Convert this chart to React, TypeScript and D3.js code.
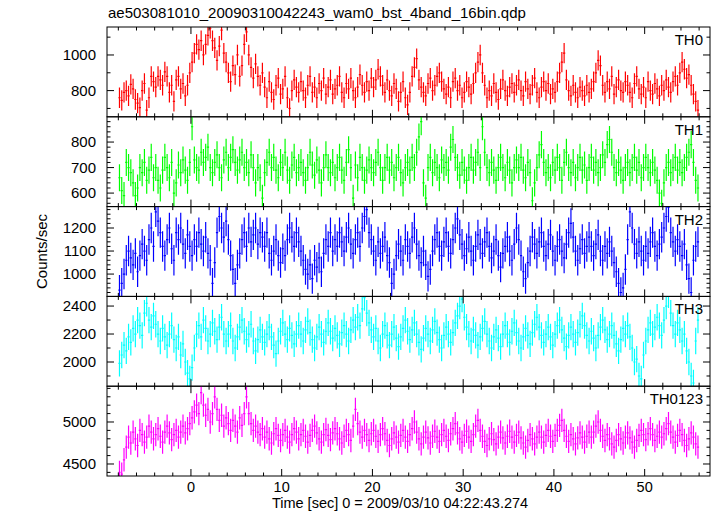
import React from "react";
import * as d3 from "d3";

const title = "ae503081010_20090310042243_wam0_bst_4band_16bin.qdp";
const xLabel = "Time [sec] 0 = 2009/03/10 04:22:43.274";
const yLabel = "Counts/sec";
const panelNames = ["TH0", "TH1", "TH2", "TH3", "TH0123"];
const panelColors = ["#ff0000", "#00ff00", "#0000ff", "#00ffff", "#ff00ff"];
const binStart = -8;
const binWidth = 0.25;
const panelErrors = [57, 53, 66, 94, 139];
const yDomains: [number, number][] = [[653, 1157], [547, 899], [903, 1293], [1827, 2469], [4357, 5426]];
const yMajorStep = [200, 100, 100, 200, 500];
const yMinorStep = [100, 20, 20, 100, 100];
const xTicksMajor = [0, 10, 20, 30, 40, 50];

const th0 = [
  760, 745, 790, 800, 770, 835, 810, 750, 730, 705, 800, 840, 690, 760, 880, 850,
  820, 880, 860, 830, 905, 880, 790, 830, 740, 860, 880, 810, 840, 770, 830, 900,
  960, 1010, 1060, 1030, 1080, 1000, 1060, 1110, 1150, 1080, 1040, 970, 1050, 1140, 1010, 960,
  900, 850, 940, 890, 1000, 880, 940, 1060, 1130, 1000, 930, 870, 950, 880, 830, 900,
  820, 760, 850, 790, 750, 830, 870, 780, 810, 880, 760, 700, 800, 860, 820, 790,
  850, 800, 760, 830, 880, 790, 820, 760, 840, 800, 870, 780, 820, 860, 780, 810,
  830, 880, 790, 760, 840, 810, 870, 800, 760, 820, 890, 830, 790, 850, 800, 870,
  820, 860, 920, 880, 830, 790, 860, 800, 770, 840, 810, 740, 790, 850, 760, 720,
  790, 880, 930, 980, 860, 820, 790, 770, 840, 870, 800, 830, 880, 900, 850, 810,
  780, 820, 760, 850, 870, 800, 830, 760, 790, 850, 820, 780, 840, 900, 960, 1000,
  900, 830, 760, 800, 770, 840, 790, 750, 810, 860, 800, 770, 820, 840, 790, 830,
  860, 800, 770, 850, 810, 780, 830, 870, 790, 760, 820, 850, 800, 840, 780, 810,
  790, 850, 900, 960, 1010, 860, 800, 770, 830, 790, 760, 820, 800, 770, 830, 790,
  810, 850, 900, 970, 940, 830, 790, 850, 810, 880, 780, 820, 860, 800, 790, 850,
  830, 790, 760, 840, 880, 810, 780, 820, 760, 850, 800, 780, 840, 810, 770, 830,
  800, 860, 820, 790, 850, 880, 830, 900, 960, 920, 870, 890, 830, 780, 740, 690,
];

const th1 = [
  660, 610, 590, 720, 700, 680, 640, 590, 620, 700, 680, 720, 650, 690, 740, 660,
  700, 650, 620, 690, 740, 700, 660, 720, 600, 640, 710, 680, 730, 690, 650, 720,
  860, 730, 700, 690, 760, 720, 740, 780, 700, 680, 720, 750, 700, 660, 730, 760,
  700, 740, 770, 720, 690, 730, 760, 700, 720, 680, 750, 700, 640, 700, 660, 580,
  680, 720, 760, 700, 740, 690, 660, 720, 700, 760, 690, 650, 710, 740, 680, 700,
  720, 680, 650, 700, 760, 710, 670, 730, 690, 640, 700, 750, 700, 680, 720, 660,
  700, 740, 690, 650, 720, 770, 700, 580, 710, 660, 740, 700, 650, 690, 730, 700,
  680, 720, 760, 700, 650, 700, 740, 690, 720, 660, 700, 740, 680, 640, 700, 720,
  690, 740, 700, 760, 820, 880, 640, 580, 700, 740, 680, 720, 700, 660, 730, 700,
  720, 690, 780, 810, 740, 700, 670, 720, 690, 650, 700, 740, 690, 720, 760, 700,
  860, 760, 700, 680, 720, 690, 650, 700, 740, 700, 660, 720, 690, 640, 700, 730,
  700, 740, 690, 660, 720, 680, 570, 640, 700, 750, 790, 720, 680, 700, 660, 720,
  690, 740, 700, 650, 720, 760, 700, 680, 720, 660, 700, 740, 690, 710, 650, 700,
  740, 690, 720, 680, 700, 750, 720, 790, 810, 760, 700, 680, 720, 690, 650, 700,
  720, 680, 700, 740, 690, 720, 660, 700, 740, 700, 680, 720, 690, 650, 600, 560,
  640, 700, 720, 680, 700, 740, 690, 720, 680, 700, 740, 760, 790, 720, 650, 620,
];

const th2 = [
  930, 960, 1000, 1060, 1100, 1070, 1040, 1090, 1010, 1080, 1130, 1100, 1060, 1150, 1200, 1120,
  1270, 1230, 1180, 1120, 1080, 1150, 1200, 1110, 1060, 1180, 1150, 1200, 1130, 1090, 1170, 1120,
  1080, 1150, 1120, 1180, 1130, 1100, 1160, 1090, 1060, 960, 1050, 1180, 1250, 1200, 1160, 1230,
  1150, 1080, 1020, 960, 1040, 1090, 1150, 1180, 1120, 1200, 1140, 1170, 1200, 1130, 1180, 1160,
  1120, 1180, 1090, 1060, 1100, 1150, 1080, 1050, 1110, 1080, 1150, 1200, 1160, 1120, 1180, 1140,
  1100, 1060, 1020, 1000, 1040, 980, 1060, 1030, 1070, 1010, 1090, 1150, 1120, 1180, 1100, 1150,
  1120, 1180, 1140, 1100, 1160, 1200, 1130, 1090, 1150, 1180, 1120, 1200, 1250, 1280, 1180, 1150,
  1100, 1060, 1140, 1090, 1120, 1160, 1080, 1050, 960, 1000, 1080, 1130, 1100, 1060, 1150, 1120,
  1090, 1160, 1200, 1130, 1080, 1050, 1100, 1040, 990, 1020, 1100, 1150, 1180, 1120, 1080, 1140,
  1180, 1120, 1090, 1150, 1200, 1240, 1170, 1130, 1080, 1110, 1160, 1100, 1060, 1120, 1170, 1130,
  1090, 1140, 1180, 1120, 1070, 1100, 1150, 1080, 1030, 1090, 1120, 1160, 1100, 1060, 1130, 1200,
  1150, 1080, 1010, 980, 1050, 1100, 1160, 1130, 1090, 1140, 1180, 1120, 1080, 1130, 1170, 1100,
  1060, 1120, 1150, 1100, 1070, 1130, 1180, 1220, 1160, 1100, 1060, 1110, 1150, 1090, 1120, 1160,
  1120, 1080, 1130, 1170, 1100, 1060, 1120, 1090, 1140, 1100, 1050, 1010, 960, 920, 940, 1020,
  1150, 1270, 1200, 1130, 1090, 1140, 1100, 1060, 1120, 1090, 1140, 1180, 1120, 1080, 1130, 1160,
  1200, 1250, 1290, 1180, 1140, 1100, 1150, 1120, 1080, 1130, 1040, 980, 920, 1060, 1120, 1140,
];

const th3 = [
  1990, 2050, 2120, 2080, 2180, 2140, 2240, 2200, 2300, 2260, 2190, 2350, 2420, 2300, 2250, 2330,
  2270, 2200, 2150, 2240, 2180, 2120, 2200, 2260, 2160, 2100, 2180, 2050, 2130, 2000, 1920, 1880,
  1960, 2100, 2200, 2260, 2180, 2300, 2240, 2150, 2200, 2280, 2220, 2160, 2250, 2320, 2200, 2150,
  2200, 2260, 2150, 2100, 2180, 2250, 2300, 2220, 2160, 2200, 2270, 2150, 2080, 2160, 2230, 2180,
  2140, 2200, 2250, 2180, 2120, 2060, 2150, 2220, 2280, 2200, 2160, 2240, 2190, 2130, 2200, 2260,
  2200, 2150, 2230, 2290, 2210, 2160, 2100, 2180, 2250, 2200, 2140, 2220, 2280, 2220, 2170, 2240,
  2190, 2130, 2210, 2260, 2200, 2150, 2230, 2300, 2250, 2320, 2260, 2380, 2460, 2350, 2280, 2230,
  2180, 2240, 2150, 2100, 2200, 2260, 2190, 2120, 2200, 2250, 2170, 2110, 2180, 2240, 2300, 2220,
  2160, 2230, 2280, 2200, 2140, 2090, 2170, 2240, 2200, 2150, 2230, 2290, 2210, 2160, 2100, 2190,
  2250, 2200, 2140, 2210, 2280, 2330, 2400, 2450, 2320, 2250, 2200, 2150, 2230, 2190, 2120, 2180,
  2240, 2290, 2200, 2150, 2100, 2180, 2230, 2170, 2110, 2200, 2260, 2200, 2140, 2220, 2280, 2210,
  2150, 2100, 2180, 2240, 2190, 2130, 2210, 2270, 2320, 2250, 2190, 2140, 2200, 2250, 2180, 2120,
  2200, 2260, 2300, 2230, 2170, 2110, 2190, 2250, 2200, 2140, 2210, 2270, 2330, 2260, 2190, 2150,
  2220, 2170, 2100, 2190, 2250, 2300, 2230, 2160, 2200, 2260, 2190, 2130, 2080, 2160, 2240, 2200,
  2260, 2180, 2100, 2000, 2020, 1900, 1880, 2050, 2150, 2230, 2280, 2200, 2250, 2320, 2260, 2190,
  2300, 2400, 2480, 2350, 2260, 2200, 2280, 2230, 2150, 2200, 2080, 2000, 1900, 1850, 2150, 2300,
];

const th0123 = [
  4400, 4380, 4550, 4700, 4820, 4750, 4880, 4800, 4720, 4900, 4850, 4760, 4820, 4950, 4880, 4800,
  4850, 4920, 4830, 4760, 4880, 4950, 4870, 4790, 4850, 4900, 4820, 4880, 4950, 4870, 4920, 4980,
  5050, 5120, 5200, 5100, 5350, 5200, 5080, 5150, 5000, 5100, 5300, 5150, 5020, 5080, 4950, 5050,
  4980, 4900, 5020, 4950, 4880, 5050, 4960, 5100, 5300, 5100, 4980, 4900, 4950, 4880, 4850, 4920,
  4820, 4880, 4800, 4750, 4860, 4920, 4840, 4780, 4850, 4900, 4820, 4760, 4850, 4920, 4880, 4800,
  4850, 4900, 4830, 4760, 4840, 4900, 4950, 4870, 4800, 4760, 4850, 4910, 4840, 4790, 4870, 4920,
  4860, 4800, 4750, 4830, 4900, 4850, 4780, 4950, 5150, 4980, 4880, 4820, 4900, 4850, 4780, 4860,
  4900, 4830, 4770, 4850, 4920, 4860, 4780, 4720, 4800, 4870, 4820, 4760, 4840, 4900, 4820, 4770,
  4850, 4920, 5000, 4880, 4800, 4740, 4820, 4880, 4810, 4750, 4830, 4890, 4820, 4770, 4850, 4900,
  4830, 4780, 4860, 4920, 4980, 4870, 4800, 4760, 4840, 4890, 4820, 4770, 4850, 4950, 5020, 4900,
  4830, 4770, 4720, 4800, 4860, 4790, 4740, 4820, 4880, 4810, 4750, 4830, 4890, 4820, 4760, 4840,
  4880, 4810, 4750, 4700, 4780, 4850, 4800, 4740, 4820, 4880, 4820, 4760, 4840, 4900, 4830, 4770,
  4840, 4900, 4960, 5020, 4900, 4830, 4770, 4850, 4800, 4740, 4810, 4870, 4820, 4760, 4830, 4880,
  4820, 4880, 4950, 5000, 4900, 4830, 4780, 4850, 4800, 4740, 4700, 4780, 4850, 4800, 4750, 4820,
  4870, 4810, 4760, 4700, 4780, 4840, 4900, 4850, 4790, 4860, 4920, 4850, 4780, 4830, 4880, 4820,
  4860, 4920, 4980, 4880, 4820, 4760, 4840, 4900, 4850, 4780, 4720, 4800, 4870, 4820, 4740, 4700,
];

const series = [th0, th1, th2, th3, th0123];

const W = 717;
const H = 516;
const left = 107;
const right = 710;
const top = 27;
const bottom = 476;
const FONT = "'Liberation Sans', Arial, Helvetica, sans-serif";

export default function App() {
  const x = d3.scaleLinear().domain([-9.25, 57.2]).range([left, right]);
  const ph = (bottom - top) / series.length;
  const xMinor = d3.range(-8, 57, 2).filter((t) => !xTicksMajor.includes(t));

  return (
    <svg width={W} height={H} style={{ position: "absolute", left: 0, top: 0, background: "#fff" }}>
      <defs>
        {series.map((_, p) => (
          <clipPath id={`clip${p}`} key={p}>
            <rect x={left} y={top + p * ph} width={right - left} height={ph} />
          </clipPath>
        ))}
      </defs>
      <rect x={0} y={0} width={W} height={H} fill="#fff" />
      <text x={108} y={18} fontFamily={FONT} fontSize={15} fill="#000">{title}</text>
      {series.map((vals, p) => {
        const y0 = top + p * ph;
        const y1 = y0 + ph;
        const y = d3.scaleLinear().domain(yDomains[p]).range([y1, y0]);
        const err = panelErrors[p];
        const color = panelColors[p];
        const [d0, d1] = yDomains[p];
        const majors = d3.range(Math.ceil(d0 / yMajorStep[p]) * yMajorStep[p], d1, yMajorStep[p]);
        const minors = d3
          .range(Math.ceil(d0 / yMinorStep[p]) * yMinorStep[p], d1, yMinorStep[p])
          .filter((v) => v % yMajorStep[p] !== 0);
        const path = d3.path();
        vals.forEach((v, i) => {
          const t0 = binStart + i * binWidth;
          const tc = t0 + binWidth / 2;
          path.moveTo(x(tc), y(v - err));
          path.lineTo(x(tc), y(v + err));
          path.moveTo(x(t0), y(v));
          path.lineTo(x(t0 + binWidth), y(v));
        });
        return (
          <g key={p}>
            <g clipPath={`url(#clip${p})`}>
              <path d={path.toString()} stroke={color} strokeWidth={1.2} fill="none" />
            </g>
            <rect x={left} y={y0} width={right - left} height={ph} fill="none" stroke="#000" strokeWidth={1} />
            {xTicksMajor.map((t) => (
              <g key={`xm${t}`} stroke="#000" strokeWidth={1}>
                <line x1={x(t)} x2={x(t)} y1={y0} y2={y0 + 7} />
                <line x1={x(t)} x2={x(t)} y1={y1} y2={y1 - 7} />
              </g>
            ))}
            {xMinor.map((t) => (
              <g key={`xn${t}`} stroke="#000" strokeWidth={1}>
                <line x1={x(t)} x2={x(t)} y1={y0} y2={y0 + 3.5} />
                <line x1={x(t)} x2={x(t)} y1={y1} y2={y1 - 3.5} />
              </g>
            ))}
            {majors.map((v) => (
              <g key={`ym${v}`}>
                <line x1={left} x2={left + 7} y1={y(v)} y2={y(v)} stroke="#000" strokeWidth={1} />
                <line x1={right} x2={right - 7} y1={y(v)} y2={y(v)} stroke="#000" strokeWidth={1} />
                <text x={96} y={y(v) + 5} textAnchor="end" fontFamily={FONT} fontSize={15} fill="#000">
                  {v}
                </text>
              </g>
            ))}
            {minors.map((v) => (
              <g key={`yn${v}`} stroke="#000" strokeWidth={1}>
                <line x1={left} x2={left + 3.5} y1={y(v)} y2={y(v)} />
                <line x1={right} x2={right - 3.5} y1={y(v)} y2={y(v)} />
              </g>
            ))}
            <text x={703} y={y0 + 18} textAnchor="end" fontFamily={FONT} fontSize={15} fill="#000">
              {panelNames[p]}
            </text>
          </g>
        );
      })}
      {xTicksMajor.map((t) => (
        <text key={`xl${t}`} x={x(t)} y={492} textAnchor="middle" fontFamily={FONT} fontSize={14.5} fill="#000">
          {t}
        </text>
      ))}
      <text x={400} y={508} textAnchor="middle" fontFamily={FONT} fontSize={14.5} fill="#000">
        {xLabel}
      </text>
      <text
        transform={`translate(47, ${(top + bottom) / 2}) rotate(-90)`}
        textAnchor="middle"
        fontFamily={FONT}
        fontSize={15}
        fill="#000"
      >
        {yLabel}
      </text>
    </svg>
  );
}
